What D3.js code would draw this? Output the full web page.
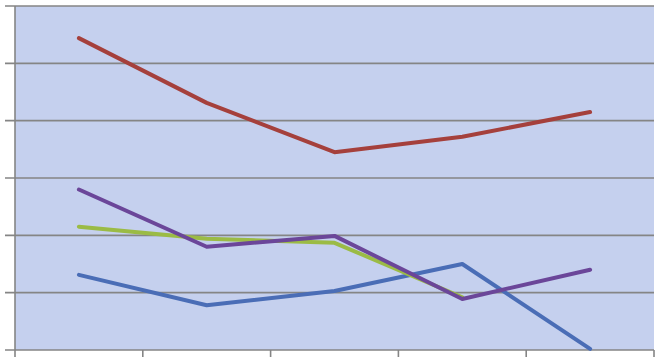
<!DOCTYPE html>
<html>
<head>
<meta charset="utf-8">
<script src="https://cdn.jsdelivr.net/npm/d3@7"></script>
<style>
  body { margin: 0; background: #fff; }
</style>
</head>
<body>
<div id="container"></div>
<script>
/* CONSTANTS AND GLOBALS */
const width = 660,
  height = 364,
  margin = { top: 6, bottom: 14, left: 15, right: 6 };

// data (no labels shown in the original)
const categories = ["1", "2", "3", "4", "5"];
const yTicks = [0, 10, 20, 30, 40, 50, 60];
const redValues = [54.4, 43.1, 34.5, 37.2, 41.5];
const purpleValues = [28.0, 18.0, 19.9, 8.9, 14.0];
const greenValues = [21.5, 19.4, 18.7, 9.2];
const blueValues = [13.1, 7.8, 10.3, 15.0, 0.2];

const series = [
  { name: "blue", color: "#4a6db6", values: blueValues },
  { name: "green", color: "#9bbb45", values: greenValues },
  { name: "red", color: "#a5403c", values: redValues },
  { name: "purple", color: "#6b4699", values: purpleValues },
];

const svg = d3.select("#container").append("svg")
  .attr("width", width)
  .attr("height", height);

const x = d3.scaleBand()
  .domain(categories)
  .range([margin.left, width - margin.right])
  .padding(0);

const y = d3.scaleLinear()
  .domain([0, 60])
  .range([height - margin.bottom, margin.top]);

// plot background
svg.append("rect")
  .attr("x", margin.left)
  .attr("y", margin.top)
  .attr("width", width - margin.left - margin.right)
  .attr("height", height - margin.top - margin.bottom)
  .attr("fill", "#c5d0ee");

// gridlines + y ticks
svg.selectAll("line.grid")
  .data(yTicks)
  .join("line")
  .attr("class", "grid")
  .attr("x1", margin.left - 10)
  .attr("x2", width - margin.right)
  .attr("y1", d => y(d))
  .attr("y2", d => y(d))
  .attr("stroke", "#858585")
  .attr("stroke-width", 1.6);

// y axis line
svg.append("line")
  .attr("x1", margin.left).attr("x2", margin.left)
  .attr("y1", margin.top).attr("y2", height - margin.bottom)
  .attr("stroke", "#858585")
  .attr("stroke-width", 1.6);

// x ticks at band edges
const xEdges = categories.map(c => x(c)).concat([x(categories[categories.length - 1]) + x.bandwidth()]);
svg.selectAll("line.xtick")
  .data(xEdges)
  .join("line")
  .attr("class", "xtick")
  .attr("x1", d => d).attr("x2", d => d)
  .attr("y1", y(0)).attr("y2", y(0) + 7)
  .attr("stroke", "#858585")
  .attr("stroke-width", 1.6);

// lines
const line = d3.line()
  .x((d, i) => x(categories[i]) + x.bandwidth() / 2)
  .y(d => y(d));

svg.selectAll("path.series")
  .data(series, d => d.name)
  .join("path")
  .attr("class", "series")
  .attr("d", d => line(d.values))
  .attr("fill", "none")
  .attr("stroke", d => d.color)
  .attr("stroke-width", 4)
  .attr("stroke-linejoin", "round")
  .attr("stroke-linecap", "round");
</script>
</body>
</html>
